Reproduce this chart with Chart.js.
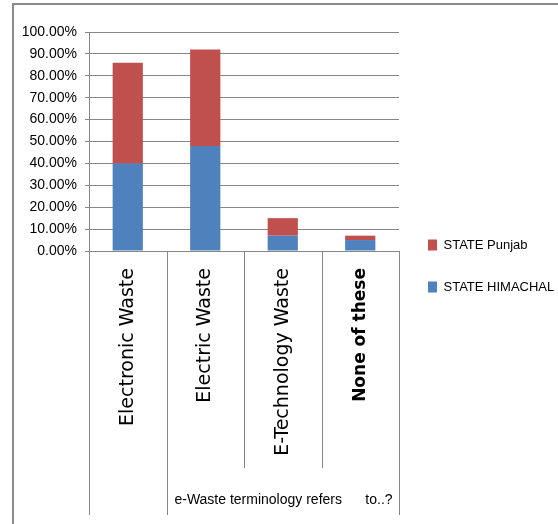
<!DOCTYPE html>
<html>
<head>
<meta charset="utf-8">
<script src="https://cdn.jsdelivr.net/npm/chart.js@4/dist/chart.umd.min.js"></script>
<style>
    html, body { margin: 0; padding: 0; background: #fff; overflow: hidden; }
    #wrap { position: relative; width: 558px; height: 524px; }
    #frame {
        position: absolute; left: 12px; top: 3px; right: -10px; bottom: -10px;
        border: 2px solid #8a8a8a;
    }
    #chart { position: absolute; left: 0; top: 0; }
</style>
</head>
<body>
<div id="wrap">
    <div id="frame"></div>
    <canvas id="chart" width="558" height="524"></canvas>
</div>
<script>
// ── Data ───────────────────────────────────────────────────
const categories = ["Electronic Waste", "Electric Waste", "E-Technology Waste", "None of these"];
const himachal   = [40, 48, 7, 5];
const punjab     = [46, 44, 8, 2];
const seriesNames = ["STATE HIMACHAL", "STATE Punjab"];

// outer level of the category axis (first category has no group text)
const groupLabels = ["", "e-Waste terminology refers      to..?"];
const groupStarts = [0, 1];
const groupEnds   = [0, 3];

// ── Style ──────────────────────────────────────────────────
const BLUE  = "#4f81bd";
const RED   = "#c0504d";
const GRID  = "#868686";
const SANS    = "'Liberation Sans', Arial, sans-serif";
const VERDANA = "'DejaVu Sans', sans-serif";

// ── Extra category lines + outer label ─────────────────────
const categoryFrame = {
    id: "categoryFrame",
    afterDraw(chart) {
        const { ctx } = chart;
        const x = chart.scales.x;
        const half = (x.getPixelForValue(1) - x.getPixelForValue(0)) / 2;
        const top = x.top;
        const edge = (i) => Math.round(x.getPixelForValue(i) - half) + 0.5;

        ctx.save();
        ctx.strokeStyle = GRID;
        ctx.lineWidth = 1;
        for (let i = 0; i <= categories.length; i++) {
            const isGroupEdge = groupStarts.includes(i) || groupEnds.includes(i - 1);
            const depth = isGroupEdge ? 264 : 217;
            ctx.beginPath();
            ctx.moveTo(edge(i), top);
            ctx.lineTo(edge(i), top + depth);
            ctx.stroke();
        }

        ctx.fillStyle = "#000";
        ctx.font = "14px " + SANS;
        ctx.textAlign = "center";
        ctx.textBaseline = "middle";
        groupLabels.forEach((label, g) => {
            if (!label) return;
            const cx = (edge(groupStarts[g]) + edge(groupEnds[g] + 1)) / 2;
            ctx.fillText(label, cx, top + 249);
        });
        ctx.restore();
    },
};

// ── Chart ──────────────────────────────────────────────────
const ctx = document.getElementById("chart").getContext("2d");
new Chart(ctx, {
    type: "bar",
    data: {
        labels: categories,
        datasets: [
            {
                label: seriesNames[0],
                data: himachal,
                backgroundColor: BLUE,
                borderWidth: 0,
                barPercentage: 0.39,
                categoryPercentage: 1,
            },
            {
                label: seriesNames[1],
                data: punjab,
                backgroundColor: RED,
                borderWidth: 0,
                barPercentage: 0.39,
                categoryPercentage: 1,
            },
        ],
    },
    options: {
        responsive: false,
        devicePixelRatio: 1,
        animation: false,
        layout: { padding: { left: 0, top: 32, right: 0, bottom: 24 } },
        plugins: {
            tooltip: { enabled: false },
            legend: {
                position: "right",
                reverse: true,
                maxWidth: 159,
                labels: {
                    boxWidth: 9,
                    boxHeight: 11,
                    padding: 29,
                    color: "#000",
                    font: { family: SANS, size: 13 },
                },
            },
        },
        scales: {
            x: {
                stacked: true,
                offset: true,
                afterFit: (axis) => { axis.height = 249; },
                grid: { display: true, drawOnChartArea: false, drawTicks: false, offset: true },
                border: { display: true, color: GRID },
                ticks: {
                    autoSkip: false,
                    minRotation: 90,
                    maxRotation: 90,
                    padding: 17,
                    color: "#000",
                    font: (c) => (c.index === 3
                        ? { family: VERDANA, size: 17, weight: "bold" }
                        : { family: VERDANA, size: 19, weight: "normal" }),
                },
            },
            y: {
                stacked: true,
                min: 0,
                max: 100,
                afterFit: (axis) => { axis.width = 89; },
                grid: { color: GRID, tickLength: 4, drawTicks: true },
                border: { display: true, color: GRID },
                ticks: {
                    autoSkip: false,
                    stepSize: 10,
                    padding: 8,
                    color: "#000",
                    font: { family: SANS, size: 14 },
                    callback: (v) => v.toFixed(2) + "%",
                },
            },
        },
    },
    plugins: [categoryFrame],
});
</script>
</body>
</html>
